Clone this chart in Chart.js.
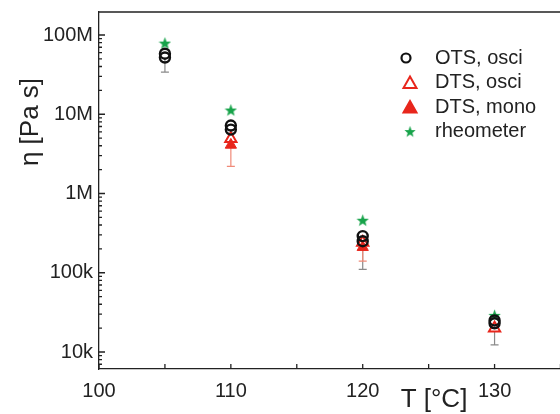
<!DOCTYPE html>
<html lang="en">
<head>
<meta charset="UTF-8">
<title>Viscosity vs temperature</title>
<script src="https://cdn.jsdelivr.net/npm/chart.js"></script>
<style>
  html, body { margin: 0; background: #fff; overflow: hidden; }
  /* a bit wider than the window: the plot frame runs off the right edge */
  #wrap { width: 569px; height: 414px; position: relative; }
  canvas { display: block; }
</style>
</head>
<body>
<div id="wrap"><canvas id="etaChart"></canvas></div>
<script>
// values
const temps = [105, 110, 120, 130];
const otsOsciA = [58e6, 7.2e6, 2.9e5, 2.5e4];
const otsOsciB = [52e6, 6.4e6, 2.5e5, 2.3e4];
const dtsOsci = [null, 4.9e6, 2.4e5, 2.0e4];
const dtsMono = [null, 4.1e6, 2.1e5, null];
const rheometer = [79e6, 11.3e6, 4.6e5, 2.9e4];
const otsErrLow = [34e6, 5.8e6, 1.1e5, 1.23e4];
const dtsErrLow = [null, 2.2e6, 1.4e5, null];
const xTicks = [100, 110, 120, 130];
const yTicks = [1e4, 1e5, 1e6, 1e7, 1e8];
const yTickLabels = ['10k', '100k', '1M', '10M', '100M'];

const RED = '#e8261c';
const GREEN = '#17a34a';
const INK = '#222';
const FONT = '"Liberation Sans", Arial, sans-serif';

function pts(vals) {
  return temps.map((t, i) => ({ x: t, y: vals[i] })).filter(p => p.y != null);
}

function starImage(size, color) {
  const c = document.createElement('canvas');
  c.width = c.height = size;
  const g = c.getContext('2d');
  g.fillStyle = color;
  g.beginPath();
  for (let i = 0; i < 10; i++) {
    const r = i % 2 ? size * 0.21 : size * 0.5;
    const a = -Math.PI / 2 + i * Math.PI / 5;
    g.lineTo(size / 2 + r * Math.cos(a), size / 2 + 0.6 + r * Math.sin(a));
  }
  g.closePath();
  g.fill();
  return c;
}
const star = starImage(13, GREEN);

// order: lower value is drawn on top
const datasets = [
  { label: 'OTS, osci', order: 0, data: pts(otsOsciA).concat(pts(otsOsciB)), pointStyle: 'circle', radius: 5,
    borderColor: '#111', backgroundColor: 'rgba(0,0,0,0)', borderWidth: 2.4,
    errTop: otsOsciB, errLow: otsErrLow, errColor: '#8a8a8a' },
  { label: 'DTS, osci', order: 2, data: pts(dtsOsci), pointStyle: 'triangle', radius: 6.5,
    borderColor: RED, backgroundColor: '#fff', borderWidth: 2 },
  { label: 'DTS, mono', order: 1, data: pts(dtsMono), pointStyle: 'triangle', radius: 6.5,
    borderColor: RED, backgroundColor: RED, borderWidth: 1,
    errTop: dtsMono, errLow: dtsErrLow, errColor: '#f08a78' },
  { label: 'rheometer', order: 3, data: pts(rheometer), pointStyle: star, radius: 6.5,
    borderColor: GREEN, backgroundColor: GREEN }
];

const frame = {
  id: 'frame',
  beforeDatasetsDraw(chart) {
    const { ctx } = chart;
    const x = chart.scales.x, y = chart.scales.y;
    ctx.save();
    // error bars
    chart.data.datasets.forEach(ds => {
      if (!ds.errLow) return;
      ctx.strokeStyle = ds.errColor;
      ctx.lineWidth = 1.2;
      temps.forEach((t, i) => {
        if (ds.errLow[i] == null) return;
        const px = x.getPixelForValue(t);
        const top = y.getPixelForValue(ds.errTop[i]);
        const bot = y.getPixelForValue(ds.errLow[i]);
        ctx.beginPath();
        ctx.moveTo(px, top); ctx.lineTo(px, bot);
        ctx.moveTo(px - 4, bot); ctx.lineTo(px + 4, bot);
        ctx.stroke();
      });
    });
    ctx.restore();
  },
  afterDraw(chart) {
    const { ctx, chartArea: a } = chart;
    const x = chart.scales.x, y = chart.scales.y;
    ctx.save();
    ctx.strokeStyle = INK;
    ctx.lineWidth = 1.3;
    ctx.beginPath();
    ctx.moveTo(a.left, a.top); ctx.lineTo(a.right, a.top);
    // inward ticks on x
    for (let v = 100; v <= 135; v += 5) {
      const px = x.getPixelForValue(v);
      ctx.moveTo(px, a.bottom); ctx.lineTo(px, a.bottom - 5);
    }
    // inward ticks on y, major and minor
    for (let d = 3; d <= 8; d++) {
      for (let m = 1; m <= 9; m++) {
        const v = m * Math.pow(10, d);
        if (v < y.min || v > y.max) continue;
        const py = y.getPixelForValue(v);
        ctx.moveTo(a.left, py); ctx.lineTo(a.left + (m === 1 ? 6 : 3), py);
      }
    }
    ctx.stroke();

    // axis titles
    ctx.fillStyle = INK;
    ctx.font = '26px ' + FONT;
    ctx.textAlign = 'center';
    ctx.textBaseline = 'alphabetic';
    ctx.fillText('T [\u00B0C]', 434, 407);
    ctx.save();
    ctx.translate(38, 122);
    ctx.rotate(-Math.PI / 2);
    ctx.fillText('\u03B7 [Pa s]', 0, 0);
    ctx.restore();

    // legend
    ctx.font = '20px ' + FONT;
    ctx.textAlign = 'left';
    ctx.textBaseline = 'middle';
    chart.data.datasets.forEach((ds, i) => {
      const cy = 58 + i * 24.5, cx = 410;
      const s = ds.pointStyle;
      if (s === 'circle') {
        ctx.strokeStyle = ds.borderColor; ctx.lineWidth = 2.2;
        ctx.beginPath(); ctx.arc(cx - 4, cy, 4.5, 0, Math.PI * 2); ctx.stroke();
      } else if (s === 'triangle') {
        ctx.beginPath();
        ctx.moveTo(cx, cy - 6); ctx.lineTo(cx + 6.5, cy + 5.5); ctx.lineTo(cx - 6.5, cy + 5.5); ctx.closePath();
        ctx.fillStyle = ds.backgroundColor; ctx.fill();
        ctx.strokeStyle = ds.borderColor; ctx.lineWidth = 2; ctx.stroke();
      } else {
        ctx.drawImage(s, cx - 6, cy - 6, 12, 12);
      }
      ctx.fillStyle = INK;
      ctx.fillText(ds.label, 435, cy);
    });
    ctx.restore();
  }
};

new Chart(document.getElementById('etaChart'), {
  type: 'scatter',
  data: { datasets },
  options: {
    responsive: true,
    maintainAspectRatio: false,
    animation: false,
    layout: { padding: { top: 12, right: 0, left: 0, bottom: 0 } },
    plugins: { legend: { display: false }, tooltip: { enabled: false } },
    scales: {
      x: {
        type: 'linear', min: 100, max: 135,
        afterBuildTicks: s => { s.ticks = xTicks.map(v => ({ value: v })); },
        afterFit: s => { s.height = 45; s.paddingLeft = 0; s.paddingRight = 0; },
        grid: { display: false, drawTicks: false },
        border: { color: INK, width: 1.3 },
        ticks: { color: INK, padding: 10, font: { size: 20, family: FONT } }
      },
      y: {
        type: 'logarithmic', min: 6100, max: 1.95e8,
        afterBuildTicks: s => { s.ticks = yTicks.map(v => ({ value: v })); },
        afterFit: s => { s.width = 99; s.paddingTop = 0; s.paddingBottom = 0; },
        grid: { display: false, drawTicks: false },
        border: { color: INK, width: 1.3 },
        ticks: {
          color: INK, padding: 6, font: { size: 20, family: FONT },
          callback: v => yTickLabels[yTicks.indexOf(v)]
        }
      }
    }
  },
  plugins: [frame]
});
</script>
</body>
</html>
